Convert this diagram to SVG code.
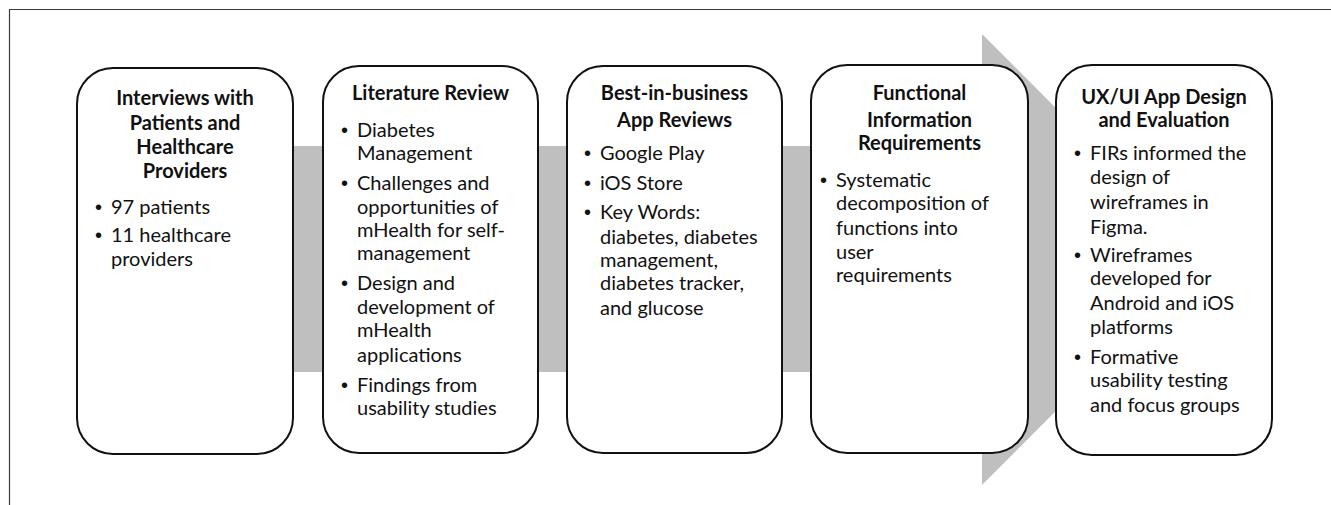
<svg xmlns="http://www.w3.org/2000/svg" width="1331" height="505" viewBox="0 0 1331 505">
  <style>
    .frame { fill: none; stroke: #3a3a3a; stroke-width: 1.2; }
    .band { fill: #bfbfbf; }
    .box { fill: #ffffff; stroke: #111111; stroke-width: 2; }
    text { font-family: Lato, "Liberation Sans", sans-serif; font-size: 20px; fill: #111111; }
    .title { font-weight: bold; text-anchor: middle; }
    .dot { font-family: "Liberation Sans", sans-serif; font-size: 20px; }
  </style>

  <!-- outer frame (top and left edges) -->
  <path class="frame" d="M9.5 505 V9.5 H1331"/>

  <!-- process arrow running behind the stages -->
  <g id="connectors">
    <polygon class="band" points="290,146 982,146 982,34 1207,259.5 982,485 982,372 290,372"/>
  </g>

  <!-- stage 1 -->
  <g id="interviews">
    <rect class="box" x="77" y="68" width="216" height="386" rx="36"/>
    <text class="title" x="185" y="105">Interviews with</text>
    <text class="title" x="185" y="130">Patients and</text>
    <text class="title" x="185" y="154">Healthcare</text>
    <text class="title" x="185" y="178">Providers</text>
    <text class="dot" x="95" y="214">•</text><text x="111" y="214">97 patients</text>
    <text class="dot" x="95" y="242">•</text><text x="111" y="242">11 healthcare</text>
    <text x="111" y="266">providers</text>
  </g>

  <!-- stage 2 -->
  <g id="literature">
    <rect class="box" x="323" y="66" width="215" height="387" rx="36"/>
    <text class="title" x="430.5" y="100">Literature Review</text>
    <text class="dot" x="341" y="137">•</text><text x="357" y="137">Diabetes</text>
    <text x="357" y="160">Management</text>
    <text class="dot" x="341" y="190">•</text><text x="357" y="190">Challenges and</text>
    <text x="357" y="214">opportunities of</text>
    <text x="357" y="237">mHealth for self-</text>
    <text x="357" y="260">management</text>
    <text class="dot" x="341" y="290">•</text><text x="357" y="290">Design and</text>
    <text x="357" y="314">development of</text>
    <text x="357" y="337">mHealth</text>
    <text x="357" y="362">applications</text>
    <text class="dot" x="341" y="392">•</text><text x="357" y="392">Findings from</text>
    <text x="357" y="415">usability studies</text>
  </g>

  <!-- stage 3 -->
  <g id="app-reviews">
    <rect class="box" x="567" y="66" width="215" height="387" rx="36"/>
    <text class="title" x="674.5" y="100">Best-in-business</text>
    <text class="title" x="674.5" y="127">App Reviews</text>
    <text class="dot" x="584" y="160">•</text><text x="600" y="160">Google Play</text>
    <text class="dot" x="584" y="190">•</text><text x="600" y="190">iOS Store</text>
    <text class="dot" x="584" y="219">•</text><text x="600" y="219">Key Words:</text>
    <text x="600" y="244">diabetes, diabetes</text>
    <text x="600" y="267">management,</text>
    <text x="600" y="290">diabetes tracker,</text>
    <text x="600" y="315">and glucose</text>
  </g>

  <!-- stage 4 -->
  <g id="requirements">
    <rect class="box" x="811" y="65" width="217" height="388" rx="36"/>
    <text class="title" x="919.5" y="100">Functional</text>
    <text class="title" x="919.5" y="127">Information</text>
    <text class="title" x="919.5" y="150">Requirements</text>
    <text class="dot" x="820" y="187">•</text><text x="836" y="187">Systematic</text>
    <text x="836" y="210">decomposition of</text>
    <text x="836" y="235">functions into</text>
    <text x="836" y="259">user</text>
    <text x="836" y="282">requirements</text>
  </g>

  <!-- stage 5 -->
  <g id="ux-design">
    <rect class="box" x="1056" y="65" width="216" height="390" rx="36"/>
    <text class="title" x="1164" y="104">UX/UI App Design</text>
    <text class="title" x="1164" y="127">and Evaluation</text>
    <text class="dot" x="1074" y="160">•</text><text x="1090" y="160">FIRs informed the</text>
    <text x="1090" y="184">design of</text>
    <text x="1090" y="209">wireframes in</text>
    <text x="1090" y="234">Figma.</text>
    <text class="dot" x="1074" y="262">•</text><text x="1090" y="262">Wireframes</text>
    <text x="1090" y="285">developed for</text>
    <text x="1090" y="310">Android and iOS</text>
    <text x="1090" y="334">platforms</text>
    <text class="dot" x="1074" y="364">•</text><text x="1090" y="364">Formative</text>
    <text x="1090" y="387">usability testing</text>
    <text x="1090" y="412">and focus groups</text>
  </g>
</svg>
